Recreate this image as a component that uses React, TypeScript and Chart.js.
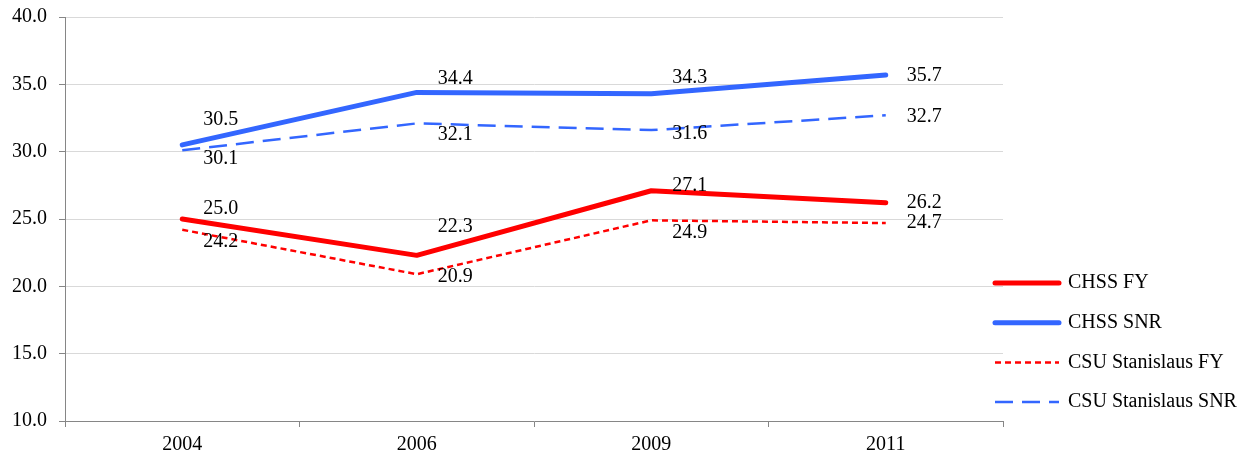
import React, { useEffect, useRef } from "react";
import { Chart, registerables } from "chart.js";

Chart.register(...registerables);

const categories = ["2004", "2006", "2009", "2011"];
const chssFY = [25.0, 22.3, 27.1, 26.2];
const chssSNR = [30.5, 34.4, 34.3, 35.7];
const csuFY = [24.2, 20.9, 24.9, 24.7];
const csuSNR = [30.1, 32.1, 31.6, 32.7];
const seriesNames = ["CHSS FY", "CHSS SNR", "CSU Stanislaus FY", "CSU Stanislaus SNR"];

// vertical label nudges (style only)
const labelDy = [
  [-10, -29, -5, 0],
  [-25, -14, -16, 1],
  [12, 3, 12, 0],
  [8, 11, 4, 1],
];

const FONT = '"Liberation Serif", "Times New Roman", serif';
const RED = "#ff0000";
const BLUE = "#3366ff";

const dataLabelPlugin = {
  id: "dataLabels",
  afterDatasetsDraw(chart: any) {
    const ctx = chart.ctx;
    ctx.save();
    ctx.font = `20px ${FONT}`;
    ctx.fillStyle = "#000";
    ctx.textAlign = "left";
    ctx.textBaseline = "middle";
    chart.data.datasets.forEach((ds: any, i: number) => {
      const meta = chart.getDatasetMeta(i);
      meta.data.forEach((pt: any, j: number) => {
        ctx.fillText(Number(ds.data[j]).toFixed(1), pt.x + 21, pt.y + labelDy[i][j]);
      });
    });
    ctx.restore();
  },
};

const legendPlugin = {
  id: "customLegend",
  afterDraw(chart: any) {
    const ctx = chart.ctx;
    ctx.save();
    const x0 = 995;
    const x1 = 1059;
    const yStart = 283;
    const step = 39.7;
    chart.data.datasets.forEach((ds: any, i: number) => {
      const y = yStart + i * step;
      ctx.beginPath();
      ctx.strokeStyle = ds.borderColor;
      ctx.lineWidth = ds.borderWidth;
      ctx.lineCap = ds.borderCapStyle || "butt";
      ctx.setLineDash(ds.borderDash || []);
      ctx.moveTo(x0, y);
      ctx.lineTo(x1, y);
      ctx.stroke();
      ctx.setLineDash([]);
      ctx.font = `20px ${FONT}`;
      ctx.fillStyle = "#000";
      ctx.textAlign = "left";
      ctx.textBaseline = "middle";
      ctx.fillText(ds.label, 1068, y);
    });
    ctx.restore();
  },
};

export default function App() {
  const ref = useRef<HTMLCanvasElement>(null);
  useEffect(() => {
    if (!ref.current) return;
    const chart = new Chart(ref.current, {
      type: "line",
      data: {
        labels: categories,
        datasets: [
          {
            label: seriesNames[0],
            data: chssFY,
            borderColor: RED,
            backgroundColor: RED,
            borderWidth: 5,
            borderCapStyle: "round",
            borderJoinStyle: "round",
            pointRadius: 0,
          },
          {
            label: seriesNames[1],
            data: chssSNR,
            borderColor: BLUE,
            backgroundColor: BLUE,
            borderWidth: 5,
            borderCapStyle: "round",
            borderJoinStyle: "round",
            pointRadius: 0,
          },
          {
            label: seriesNames[2],
            data: csuFY,
            borderColor: RED,
            backgroundColor: RED,
            borderWidth: 2.5,
            borderDash: [6, 4],
            pointRadius: 0,
          },
          {
            label: seriesNames[3],
            data: csuSNR,
            borderColor: BLUE,
            backgroundColor: BLUE,
            borderWidth: 2.5,
            borderDash: [18, 9],
            pointRadius: 0,
          },
        ],
      } as any,
      options: {
        animation: false,
        responsive: false,
        layout: { padding: { top: 17, right: 244, left: 0, bottom: 0 } },
        plugins: {
          legend: { display: false },
          tooltip: { enabled: false },
          title: { display: false },
        },
        scales: {
          x: {
            offset: true,
            grid: {
              offset: true,
              drawOnChartArea: false,
              drawTicks: true,
              tickLength: 6,
              tickColor: "#868686",
            },
            border: { color: "#868686", width: 1 },
            ticks: {
              color: "#000",
              font: { family: FONT, size: 20 },
              padding: 6,
              maxRotation: 0,
            },
            afterFit: (s: any) => {
              s.height = 36;
              s.paddingLeft = 0;
              s.paddingRight = 0;
            },
          },
          y: {
            min: 10,
            max: 40,
            grid: {
              color: "#d9d9d9",
              drawTicks: true,
              tickLength: 6,
              tickColor: "#868686",
            },
            border: { color: "#868686", width: 1 },
            ticks: {
              stepSize: 5,
              color: "#000",
              font: { family: FONT, size: 20 },
              padding: 12,
              callback: (v: any) => Number(v).toFixed(1),
            },
            afterFit: (s: any) => {
              s.width = 65;
              s.paddingTop = 0;
              s.paddingBottom = 0;
            },
          },
        },
      } as any,
      plugins: [dataLabelPlugin, legendPlugin],
    });
    return () => chart.destroy();
  }, []);
  return (
    <div style={{ position: "absolute", left: 0, top: 0, width: 1247, height: 457, background: "#fff" }}>
      <canvas ref={ref} width={1247} height={457} style={{ display: "block" }} />
    </div>
  );
}
